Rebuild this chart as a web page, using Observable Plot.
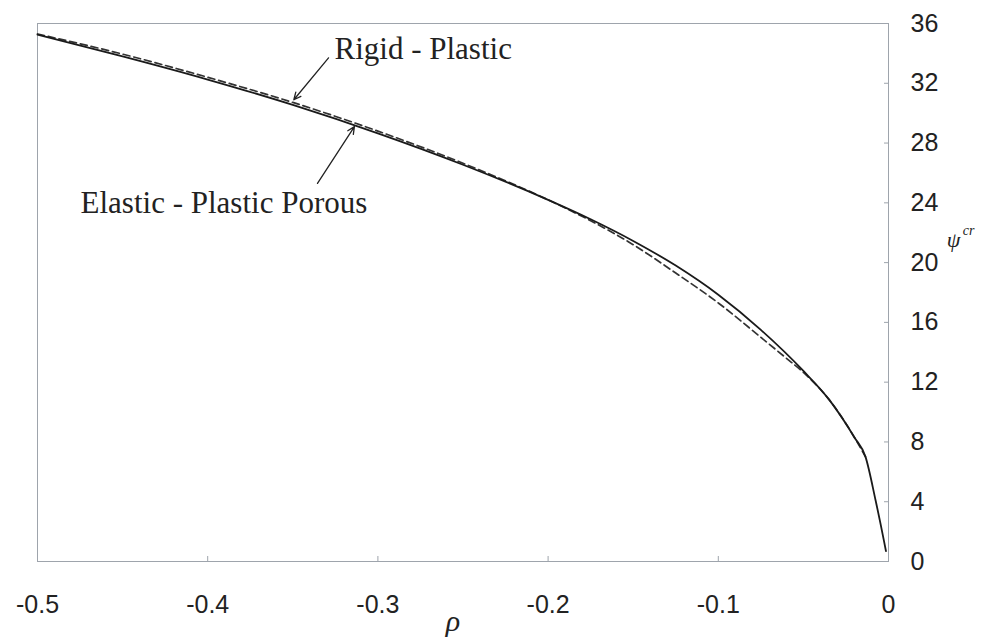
<!DOCTYPE html>
<html>
<head>
<meta charset="utf-8">
<script src="https://cdn.jsdelivr.net/npm/d3@7"></script>
<script src="https://cdn.jsdelivr.net/npm/@observablehq/plot@0.6"></script>
<style>
  html, body { margin: 0; padding: 0; background: #fff; }
</style>
</head>
<body>
<div id="chart"></div>
<script>
// Critical load parameter psi^cr versus rho for two material models.
const rhoElastic = [-0.5, -0.45, -0.4, -0.35, -0.3, -0.25, -0.2, -0.175, -0.15, -0.125, -0.1, -0.075, -0.05, -0.035, -0.02, -0.0135, -0.0076, -0.0027, -0.0015];
const psiElasticPlasticPorous = [35.25, 33.8, 32.25, 30.55, 28.65, 26.55, 24.2, 22.9, 21.45, 19.8, 17.85, 15.5, 12.75, 10.85, 8.3, 7.0, 4.1, 1.4, 0.7];

const rhoRigid = [-0.5, -0.45, -0.4, -0.35, -0.3, -0.25, -0.2, -0.175, -0.15, -0.125, -0.1, -0.075, -0.06, -0.05, -0.035, -0.02, -0.0135];
const psiRigidPlastic = [35.3, 33.95, 32.4, 30.72, 28.8, 26.65, 24.2, 22.8, 21.2, 19.3, 17.3, 15.0, 13.6, 12.65, 10.85, 8.3, 7.0];

const xTicks = [-0.5, -0.4, -0.3, -0.2, -0.1, 0];
const yTicks = [0, 4, 8, 12, 16, 20, 24, 28, 32, 36];

// Curve annotations: label text and arrow from label toward its curve
const labelNames = ["Rigid - Plastic", "Elastic - Plastic Porous"];
const labelRho = [-0.3255, -0.4747];
const labelPsi = [34.3, 24.0];
const arrowFromRho = [-0.329, -0.3355];
const arrowFromPsi = [33.7, 25.3];
const arrowToRho = [-0.3494, -0.3138];
const arrowToPsi = [30.9, 29.1];

const solid = rhoElastic.map((r, i) => ({rho: r, psi: psiElasticPlasticPorous[i]}));
const dashed = rhoRigid.map((r, i) => ({rho: r, psi: psiRigidPlastic[i]}));
const labels = labelNames.map((t, i) => ({text: t, rho: labelRho[i], psi: labelPsi[i]}));
const arrows = labelNames.map((t, i) => ({
  x1: arrowFromRho[i], y1: arrowFromPsi[i], x2: arrowToRho[i], y2: arrowToPsi[i]
}));

const serif = "'Liberation Serif', 'Times New Roman', serif";
const sans = "'Liberation Sans', Arial, sans-serif";

const chart = Plot.plot({
  width: 987,
  height: 640,
  marginLeft: 37,
  marginRight: 99,
  marginTop: 23,
  marginBottom: 79,
  style: {background: "#fff", color: "#222", fontFamily: sans, fontSize: "25px"},
  x: {domain: [-0.5, 0], label: null},
  y: {domain: [0, 36], label: null},
  marks: [
    Plot.frame({stroke: "#9ea4ac", strokeWidth: 1}),
    // inward tick marks
    Plot.axisX(xTicks, {anchor: "bottom", tickSize: 5, dy: -5, fill: "none", stroke: "#9ea4ac", label: null}),
    Plot.axisY(yTicks, {anchor: "right", tickSize: 5, dx: -5, fill: "none", stroke: "#9ea4ac", label: null}),
    // tick labels
    Plot.axisX(xTicks, {anchor: "bottom", tickSize: 0, tickPadding: 34, tickFormat: d => String(d), fill: "#222", label: null}),
    Plot.axisY(yTicks, {anchor: "right", tickSize: 0, tickPadding: 22, tickFormat: d => String(d), fill: "#222", label: null}),
    // curves
    Plot.line(dashed, {x: "rho", y: "psi", stroke: "#333", strokeWidth: 1.7, strokeDasharray: "7,4", curve: "monotone-x"}),
    Plot.line(solid, {x: "rho", y: "psi", stroke: "#1a1a1a", strokeWidth: 1.8, curve: "monotone-x"}),
    // annotations
    Plot.arrow(arrows, {x1: "x1", y1: "y1", x2: "x2", y2: "y2", stroke: "#222", strokeWidth: 1.3, headLength: 9, headAngle: 50}),
    Plot.text(labels, {x: "rho", y: "psi", text: "text", textAnchor: "start", lineAnchor: "middle", fontFamily: serif, fontSize: 31, fill: "#222"}),
    // axis titles
    Plot.text(["ρ"], {frameAnchor: "bottom", dx: -10, dy: 69, fontFamily: serif, fontStyle: "italic", fontSize: 30, fill: "#222"}),
    Plot.text(["ψ"], {frameAnchor: "right", dx: 72, dy: -53, fontFamily: serif, fontStyle: "italic", fontSize: 22, fill: "#222"}),
    Plot.text(["cr"], {frameAnchor: "right", dx: 86, dy: -62, fontFamily: serif, fontStyle: "italic", fontSize: 14, fill: "#222"})
  ]
});

document.getElementById("chart").appendChild(chart);
</script>
</body>
</html>
